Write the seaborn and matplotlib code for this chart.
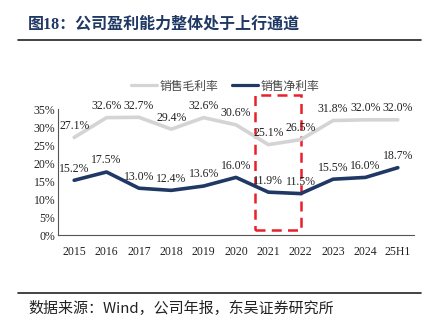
import matplotlib
matplotlib.use("Agg")
import matplotlib.pyplot as plt
import matplotlib.patches as mpatches
from matplotlib.lines import Line2D
import seaborn as sns
import pandas as pd
import numpy as np

years = ["2015", "2016", "2017", "2018", "2019", "2020", "2021", "2022", "2023", "2024", "25H1"]
gross_margin = [27.1, 32.6, 32.7, 29.4, 32.6, 30.6, 25.1, 26.5, 31.8, 32.0, 32.0]
net_margin = [15.2, 17.5, 13.0, 12.4, 13.6, 16.0, 11.9, 11.5, 15.5, 16.0, 18.7]
series_names = ["销售毛利率", "销售净利率"]
yticks = [0, 5, 10, 15, 20, 25, 30, 35]

sns.set_theme(style="white")
plt.rcParams['font.family'] = ['Liberation Serif', 'Noto Sans CJK SC', 'DejaVu Sans']

GRAY = "#d4d4d4"
NAVY = "#1f3864"

df = pd.DataFrame({
    "year": years * 2,
    "value": gross_margin + net_margin,
    "series": [series_names[0]] * len(years) + [series_names[1]] * len(years),
})

fig = plt.figure(figsize=(4.34, 3.27), dpi=100)
ax = fig.add_axes([58/434, 1-235/327, (414-58)/434, (235-109)/327])

sns.lineplot(data=df, x="year", y="value", hue="series",
             palette={series_names[0]: GRAY, series_names[1]: NAVY},
             linewidth=2.6, ax=ax, legend=False, sort=False)

ax.set_xlim(-0.5, len(years) - 0.5)
ax.set_ylim(0, 35)
ax.set_yticks(yticks)
ax.set_yticklabels([f"{v}%" for v in yticks], fontsize=8.5, family='Liberation Serif')
ax.set_xticks(range(len(years)))
ax.set_xticklabels(years, fontsize=8.5, family='Liberation Serif')
ax.set_xticks(np.arange(-0.5, len(years), 1), minor=True)
ax.tick_params(axis='x', which='major', length=0, pad=8, colors='#222222')
ax.tick_params(axis='x', which='minor', length=4, direction='in', width=0.8, color='#555555')
ax.tick_params(axis='y', length=0, pad=2, colors='#222222')
ax.set_xlabel("")
ax.set_ylabel("")
for s in ["top", "right"]:
    ax.spines[s].set_visible(False)
for s in ["left", "bottom"]:
    ax.spines[s].set_color("#555555")
    ax.spines[s].set_linewidth(0.8)

for i, v in enumerate(gross_margin):
    ax.annotate(f"{v:.1f}%", (i, v), xytext=(0, 4), textcoords="offset points",
                ha="center", va="bottom", fontsize=8.5, family='Liberation Serif',
                color="#222222", clip_on=False)
for i, v in enumerate(net_margin):
    ax.annotate(f"{v:.1f}%", (i, v), xytext=(0, 4), textcoords="offset points",
                ha="center", va="bottom", fontsize=8.5, family='Liberation Serif',
                color="#222222", clip_on=False)

# red dashed highlight box around 2021-2022
rect = mpatches.Rectangle((5.58, 1.4), 1.42, 37.4, fill=False, edgecolor="#e8202a",
                          linewidth=1.8, linestyle=(0, (4, 2.5)), clip_on=False)
ax.add_patch(rect)

handles = [Line2D([0], [0], color=GRAY, lw=2.3), Line2D([0], [0], color=NAVY, lw=2.3)]
fig.legend(handles, series_names, loc="center", bbox_to_anchor=(225/434, 1-86/327),
           ncol=2, frameon=False, prop={'family': ['Noto Sans CJK SC'], 'size': 8.5},
           handlelength=2.2, handletextpad=0.2, columnspacing=1.2, labelcolor="#444444")

# title and rules
fig.text(28/434, 1-25/327, "图18：公司盈利能力整体处于上行通道", ha="left", va="center",
         fontsize=11.5, fontweight="bold", color=NAVY,
         family=['Liberation Serif', 'Noto Sans CJK SC'])
fig.add_artist(Line2D([18/434, 421/434], [1-40/327, 1-40/327], color="#222222", lw=1.2,
                      transform=fig.transFigure))
fig.add_artist(Line2D([18/434, 421/434], [1-293/327, 1-293/327], color="#222222", lw=1.2,
                      transform=fig.transFigure))
fig.text(28/434, 1-308/327, "数据来源：Wind，公司年报，东吴证券研究所", ha="left", va="center",
         fontsize=10.8, color="#222222", family=['Noto Sans CJK SC', 'Liberation Serif'])

fig.savefig("out.png", dpi=100)
